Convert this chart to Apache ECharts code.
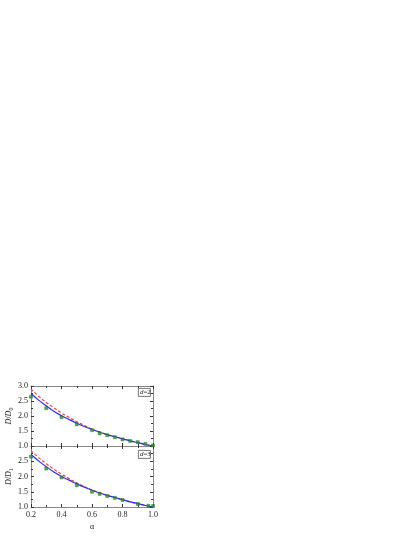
<!DOCTYPE html>
<html>
<head>
<meta charset="utf-8">
<script src="https://cdn.jsdelivr.net/npm/echarts@6/dist/echarts.min.js"></script>
<style>
html,body{margin:0;padding:0;background:#fff;}
#chart{width:415px;height:537px;}
</style>
</head>
<body>
<div id="chart"></div>
<script>
// alpha grid for the curves
var alphaCurve = [0.2,0.25,0.3,0.35,0.4,0.45,0.5,0.55,0.6,0.65,0.7,0.75,0.8,0.85,0.9,0.95,1.0];
// d=2 panel
var blue2 = [2.75,2.53,2.34,2.16,2.01,1.88,1.76,1.65,1.55,1.46,1.38,1.31,1.24,1.17,1.11,1.05,1.00];
var red2  = [2.90,2.66,2.45,2.27,2.10,1.95,1.81,1.68,1.56,1.47,1.38,1.31,1.24,1.17,1.11,1.05,1.00];
var alphaPts2 = [0.2,0.3,0.4,0.5,0.6,0.65,0.7,0.75,0.8,0.85,0.9,0.95,1.0];
var pts2 = [2.64,2.26,1.96,1.72,1.53,1.42,1.36,1.29,1.22,1.17,1.13,1.07,1.02];
// d=3 panel
var blue3 = [2.72,2.51,2.32,2.15,2.00,1.88,1.76,1.65,1.55,1.46,1.38,1.31,1.24,1.17,1.11,1.05,1.00];
var red3  = [2.85,2.62,2.42,2.24,2.08,1.93,1.79,1.67,1.56,1.47,1.38,1.31,1.24,1.17,1.11,1.05,1.00];
var alphaPts3 = [0.2,0.3,0.4,0.5,0.6,0.65,0.7,0.75,0.8,0.9,0.97,1.0];
var pts3 = [2.65,2.26,1.97,1.71,1.50,1.43,1.36,1.30,1.23,1.10,1.04,1.03];

var xTicks = ['0.2','0.4','0.6','0.8','1.0'];

function zip(xs, ys){
  return xs.map(function(x, i){ return [x, ys[i]]; });
}

var chart = echarts.init(document.getElementById('chart'));
var font = 'Liberation Serif';
var axisCol = '#888';

function xAx(grid, pos, labels){
  return {
    type:'value', gridIndex:grid, position:pos, min:0.2, max:1.0, interval:0.2,
    axisLine:{show:true, lineStyle:{color:axisCol, width:1}},
    axisTick:{show:true, inside:true, length:3, lineStyle:{color:'#333'}},
    minorTick:{show:true, splitNumber:2, length:2, lineStyle:{color:'#333'}},
    splitLine:{show:false},
    axisLabel:{show:labels, color:'#222', fontFamily:font, fontSize:8, margin:4,
      formatter:function(v){ var s = v.toFixed(1); return xTicks.indexOf(s) >= 0 ? s : ''; }},
    name: labels ? 'α' : '', nameLocation:'middle', nameGap:16,
    nameTextStyle:{color:'#222', fontFamily:font, fontSize:8}
  };
}
function yAx(grid, pos, labels, hideTop, sub){
  return {
    type:'value', gridIndex:grid, position:pos, min:1.0, max:3.0, interval:0.5,
    axisLine:{show:true, lineStyle:{color:axisCol, width:1}},
    axisTick:{show:true, inside:true, length:3, lineStyle:{color:'#333'}},
    minorTick:{show:true, splitNumber:2, length:2, lineStyle:{color:'#333'}},
    splitLine:{show:false},
    axisLabel:{show:labels, color:'#222', fontFamily:font, fontSize:8, margin:3,
      formatter:function(v){ if(hideTop && v >= 3) return ''; return v.toFixed(1); }},
    name: labels ? '{i|D}/{i|D}{s|' + sub + '}' : '',
    nameLocation:'middle', nameRotate:90, nameGap:17,
    nameTextStyle:{color:'#222', fontFamily:font, fontSize:8,
      rich:{i:{fontStyle:'italic', fontFamily:font, fontSize:8},
            s:{fontFamily:font, fontSize:6, verticalAlign:'bottom', padding:[4,0,0,0]}}}
  };
}

function legendBox(top, label){
  return {
    type:'group', left:138, top:top,
    children:[
      {type:'rect', shape:{x:0, y:0, width:12, height:8}, style:{fill:'#fff', stroke:'#555', lineWidth:0.8}},
      {type:'text', left:1.5, top:0.5, style:{
        text:'{i|d}=' + label,
        rich:{i:{fontStyle:'italic', fontFamily:font, fontSize:7}},
        font:'7px "Liberation Serif"', fill:'#222'}}
    ]
  };
}

function seriesFor(grid, red, blue, ax, pts){
  var xi = grid * 2, yi = grid * 2;
  return [
    {type:'line', xAxisIndex:xi, yAxisIndex:yi, data:zip(alphaCurve, red), smooth:true, showSymbol:false,
      lineStyle:{color:'#ff3b3b', width:1.2, type:[3,2]}, z:2},
    {type:'line', xAxisIndex:xi, yAxisIndex:yi, data:zip(alphaCurve, blue), smooth:true, showSymbol:false,
      lineStyle:{color:'#2b2bff', width:1.2}, z:3},
    {type:'scatter', xAxisIndex:xi, yAxisIndex:yi, data:zip(ax, pts), symbol:'rect', symbolSize:3,
      itemStyle:{color:'#229922', borderColor:'#176617', borderWidth:0.5}, z:4}
  ];
}

chart.setOption({
  backgroundColor:'#fff',
  animation:false,
  grid:[
    {left:31, width:122, top:386, height:60},
    {left:31, width:122, top:446, height:61}
  ],
  xAxis:[xAx(0,'bottom',false), xAx(0,'top',false), xAx(1,'bottom',true), xAx(1,'top',false)],
  yAxis:[yAx(0,'left',true,false,'0'), yAx(0,'right',false,false,''), yAx(1,'left',true,true,'1'), yAx(1,'right',false,false,'')],
  graphic:[legendBox(388,'2'), legendBox(450,'3')],
  series:[].concat(seriesFor(0, red2, blue2, alphaPts2, pts2), seriesFor(1, red3, blue3, alphaPts3, pts3))
});
</script>
</body>
</html>
